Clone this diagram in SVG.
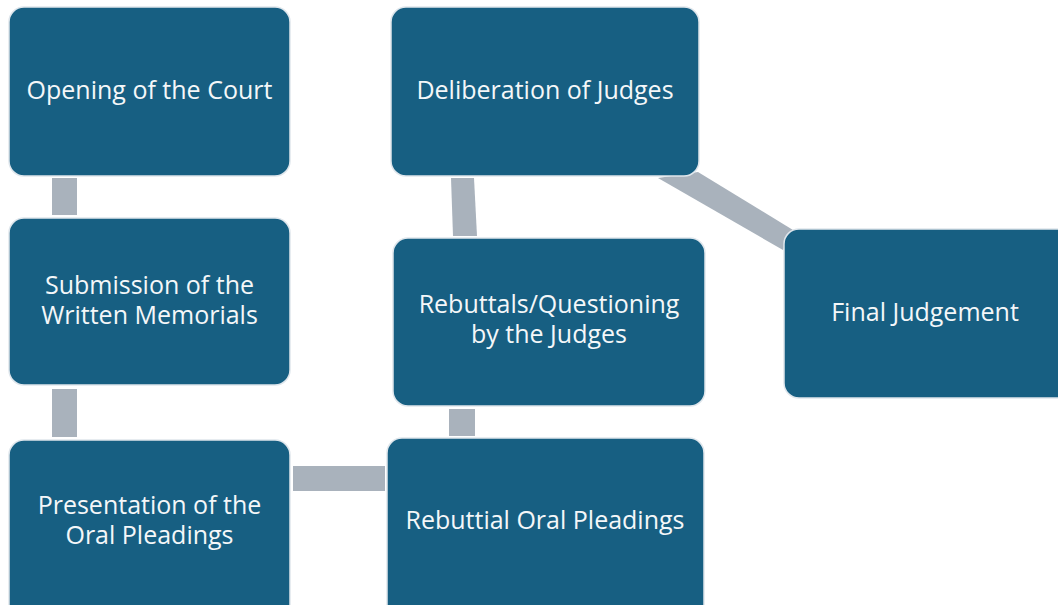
<svg xmlns="http://www.w3.org/2000/svg" width="1058" height="605" viewBox="0 0 1058 605">
<style>
.box{fill:#175f82;stroke:#dfe6ec;stroke-width:1.5}
.lbl{fill:#f4f7f9;font-family:"Open Sans","Liberation Sans",sans-serif;font-size:25px;text-anchor:middle}
.con{fill:#a9b2bc}
</style>
<rect width="1058" height="605" fill="#ffffff"/>
<g id="connectors">
<rect class="con" x="52" y="178" width="25" height="37"/>
<rect class="con" x="52" y="389" width="25" height="48"/>
<rect class="con" x="293" y="466" width="92" height="25"/>
<rect class="con" x="449" y="409" width="26" height="27"/>
<polygon class="con" points="451,178 474,178 477,236 453,236"/>
<polygon class="con" points="658,178 698,172 793,230 783,250"/>
</g>
<g id="n1"><rect class="box" x="9" y="7" width="281" height="169" rx="15"/><text class="lbl" x="149.5" y="99">Opening of the Court</text></g>
<g id="n2"><rect class="box" x="9" y="218" width="281" height="167" rx="15"/><text class="lbl" x="149.5" y="294">Submission of the</text><text class="lbl" x="149.5" y="324">Written Memorials</text></g>
<g id="n3"><rect class="box" x="9" y="440" width="281" height="180" rx="15"/><text class="lbl" x="149.5" y="514">Presentation of the</text><text class="lbl" x="149.5" y="544">Oral Pleadings</text></g>
<g id="n4"><rect class="box" x="387" y="438" width="317" height="182" rx="15"/><text class="lbl" x="545" y="529">Rebuttial Oral Pleadings</text></g>
<g id="n5"><rect class="box" x="393" y="238" width="312" height="168" rx="15"/><text class="lbl" x="549" y="313">Rebuttals/Questioning</text><text class="lbl" x="549" y="343">by the Judges</text></g>
<g id="n6"><rect class="box" x="391" y="7" width="308" height="169" rx="15"/><text class="lbl" x="545" y="99">Deliberation of Judges</text></g>
<g id="n7"><rect class="box" x="784" y="229" width="290" height="169" rx="15"/><text class="lbl" x="925" y="321">Final Judgement</text></g>
</svg>
